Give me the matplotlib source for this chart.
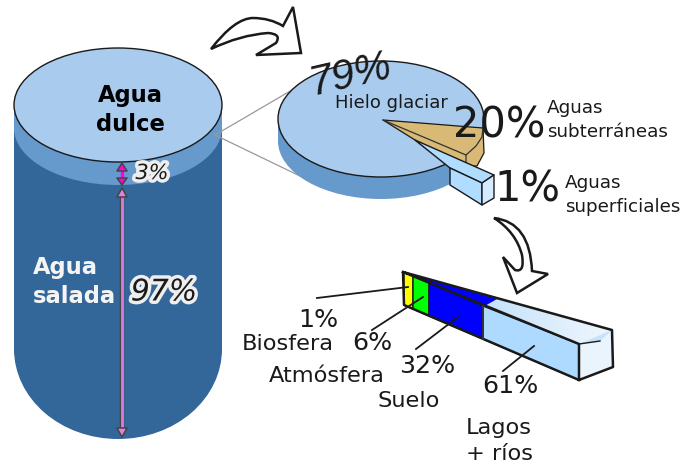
#!/usr/bin/env python3
import numpy as np
import matplotlib
matplotlib.use("Agg")
import matplotlib.pyplot as plt
import matplotlib.patheffects as pe
from matplotlib.colors import LinearSegmentedColormap
from matplotlib.patches import Ellipse, Polygon, PathPatch, Rectangle
from matplotlib.path import Path

# Values
split_labels = ["Agua\ndulce", "Agua\nsalada"]
split_values = [3, 97]
fresh_labels = ["Hielo glaciar", "Aguas\nsubterráneas", "Aguas\nsuperficiales"]
fresh_values = [79, 20, 1]
surface_labels = ["Biosfera", "Atmósfera", "Suelo", "Lagos\n+ ríos"]
surface_values = [1, 6, 32, 61]

DARK = "#336699"
MID = "#6699cc"
LIGHT = "#a8cbee"
TAN = "#d8b975"
PALE = "#b0dcff"
INK = "#1a1a1a"


def poly(ax, pts, fc, ec=INK, lw=1.2, z=2):
    p = Polygon(pts, closed=True, fc=fc, ec=ec, lw=lw, zorder=z, joinstyle="round")
    ax.add_patch(p)
    return p


def curve_arrow(ax, verts, codes):
    path = Path(verts, codes)
    ax.add_patch(PathPatch(path, fc="white", ec=INK, lw=1.8, zorder=6, joinstyle="miter"))


def up_arrow(ax, x, tip, base, fc):
    poly(ax, [(x, tip), (x - 5, base), (x + 5, base)], fc, ec="#444444", lw=1.1, z=7)


fig = plt.figure(figsize=(6.83, 4.70), dpi=100)
ax = fig.add_axes([0, 0, 1, 1])
ax.axis("off")

# Cylinder
ax.add_patch(Ellipse((118, 349), 208, 180, fc=DARK, ec="none", zorder=1))
ax.add_patch(Rectangle((14, 105), 208, 244, fc=DARK, ec="none", zorder=1))
ax.add_patch(Ellipse((118, 128), 208, 114, fc=MID, ec="none", zorder=1.2))
ax.add_patch(Rectangle((14, 105), 208, 23, fc=MID, ec="none", zorder=1.2))
ax.add_patch(Ellipse((118, 105), 208, 114, fc=LIGHT, ec=INK, lw=1.0, zorder=1.4))

# Zoom lines towards the pie
ax.plot([215, 292], [135, 90], color="#999999", lw=0.9, zorder=1.5)
ax.plot([215, 302], [135, 177], color="#999999", lw=0.9, zorder=1.5)

# Pie, drawn as a thick disc
ax.add_patch(Ellipse((381, 141), 206, 116, fc=MID, ec="none", zorder=2))
ax.add_patch(Rectangle((278, 119), 206, 22, fc=MID, ec="none", zorder=2))
ax.add_patch(Ellipse((381, 119), 206, 116, fc=LIGHT, ec=INK, lw=1.0, zorder=2.2))

# Groundwater wedge
poly(ax, [(383, 120), (483, 128), (484, 153), (477, 166), (450, 166), (415, 140)], TAN, lw=0.9, z=3)
ax.plot([383, 466, 466], [120, 155, 162], color="#333333", lw=0.9, zorder=3.1)
ax.plot([466, 476, 482, 483], [155, 146, 137, 128], color="#333333", lw=0.9, zorder=3.1)

# Surface water slice
poly(ax, [(415, 140), (494, 175), (482, 183), (450, 168)], PALE, lw=1.0, z=4)
poly(ax, [(450, 168), (482, 183), (482, 205), (450, 185)], PALE, lw=1.0, z=4)
poly(ax, [(482, 183), (494, 175), (494, 198), (482, 205)], "#d5ebff", lw=1.0, z=4)

# Bar top face with a soft gradient
top_pts = [(403, 272), (612, 330), (579, 344), (483, 306)]
top_face = Polygon(top_pts, closed=True, fc="none", ec="none", zorder=3)
ax.add_patch(top_face)
grad = np.linspace(0, 1, 128).reshape(1, -1)
cmap = LinearSegmentedColormap.from_list("top", ["#c2e1fa", "#f0f7fd"])
im = ax.imshow(grad, extent=(480, 612, 345, 290), cmap=cmap, aspect="auto", zorder=3)
im.set_clip_path(top_face)
poly(ax, [(403, 272), (497, 299), (483, 307), (429, 284)], "#0000ff", ec="none", lw=0, z=3.1)

# Bar front segments
poly(ax, [(404, 272), (413, 276), (413, 309), (404, 305)], "#ffff00", lw=1.0, z=4)
poly(ax, [(413, 276), (429, 283), (429, 316), (413, 309)], "#00ff00", lw=1.0, z=4)
poly(ax, [(429, 283), (483, 306), (483, 339), (429, 316)], "#0000ff", lw=1.0, z=4)
poly(ax, [(483, 306), (579, 344), (579, 380), (483, 339)], "#aedaff", lw=1.0, z=4)
poly(ax, [(579, 344), (612, 330), (613, 367), (579, 380)], "#eaf4fd", ec="none", lw=0, z=4)
poly(ax, [(579, 344), (600, 341), (612, 330)], "#c8e2f8", ec="none", lw=0, z=4.2)
ax.plot([403, 612, 613, 579, 404, 403, 579, 579], [272, 330, 367, 380, 305, 272, 344, 380],
        color=INK, lw=1.8, zorder=5, solid_joinstyle="round")
ax.plot([579, 600], [344, 341], color=INK, lw=1.0, zorder=5)
ax.plot([483, 483], [306, 339], color="#333333", lw=1.4, zorder=5)

# Leader lines of the bar
ax.plot([317, 408], [298, 287], color=INK, lw=1.3, zorder=6)
ax.plot([372, 423], [330, 297], color=INK, lw=1.3, zorder=6)
ax.plot([416, 458], [349, 317], color=INK, lw=1.3, zorder=6)
ax.plot([503, 534], [371, 346], color=INK, lw=1.3, zorder=6)

# Outline arrows
M, L, C = Path.MOVETO, Path.LINETO, Path.CURVE3
curve_arrow(ax,
            [(211, 49), (235, 18), (253, 18), (270, 18), (283, 26), (293, 7), (301, 53), (256, 55),
             (276, 43), (282, 34), (268, 33), (240, 35), (211, 49), (211, 49)],
            [M, C, C, C, C, L, L, L, L, C, C, C, C, Path.CLOSEPOLY])
curve_arrow(ax,
            [(494, 218), (530, 222), (532, 271), (548, 274), (517, 293), (503, 257), (515, 270),
             (525, 273), (522, 255), (516, 232), (494, 218), (494, 218)],
            [M, C, C, L, L, L, L, C, C, C, C, Path.CLOSEPOLY])

# Percentage arrows on the cylinder
ax.plot([122, 122], [194, 430], color="#444444", lw=3.2, zorder=6, solid_capstyle="butt")
ax.plot([122, 122], [194, 430], color="#d878d8", lw=2.1, zorder=6.5, solid_capstyle="butt")
up_arrow(ax, 122, 188, 197, "#e080e0")
up_arrow(ax, 122, 437, 428, "#e080e0")
ax.plot([122, 122], [167, 180], color="#ff00e0", lw=2.4, zorder=6.5, solid_capstyle="butt")
up_arrow(ax, 122, 163, 171, "#ff00e0")
up_arrow(ax, 122, 185, 178, "#ff00e0")

# Cylinder labels
tkw = dict(va="center", fontweight="bold", fontsize=16.3, linespacing=1.35, zorder=8)
ax.text(130, 110, split_labels[0], color="black", ha="center", **tkw)
ax.text(33, 282, split_labels[1], color="#f4f4f4", ha="left", multialignment="left", **tkw)
halo = [pe.withStroke(linewidth=5, foreground="#eeeeee")]
ax.text(152, 173, f"{split_values[0]}%", fontsize=15, style="italic", ha="center", va="center",
        color=INK, zorder=8, path_effects=halo)
ax.text(164, 292, f"{split_values[1]}%", fontsize=21.5, style="italic", ha="center", va="center",
        color=INK, zorder=8, path_effects=halo)

# Pie labels
ax.text(351, 75, f"{fresh_values[0]}%", family="Liberation Sans", fontsize=30,
        style="italic", rotation=13, ha="center", va="center", color=INK, zorder=8)
ax.text(391, 103, fresh_labels[0], fontsize=13, ha="center", va="center", color=INK, zorder=8)
ax.text(499, 126, f"{fresh_values[1]}%", fontsize=30, ha="center", va="center", color=INK, zorder=8)
ax.text(547, 120, fresh_labels[1], fontsize=13.2, ha="left", va="center", color=INK, linespacing=1.36, zorder=8)
ax.text(527, 190, f"{fresh_values[2]}%", fontsize=30, ha="center", va="center", color=INK, zorder=8)
ax.text(565, 195, fresh_labels[2], fontsize=13.2, ha="left", va="center", color=INK, linespacing=1.36, zorder=8)

# Bar labels
pct_xy = [(318, 320), (372, 343), (427, 366), (510, 386)]
name_xy = [(288, 344), (327, 376), (409, 401), (499, 441)]
for v, xy in zip(surface_values, pct_xy):
    ax.text(xy[0], xy[1], f"{v}%", fontsize=18.2, ha="center", va="center", color=INK, zorder=8)
for s, xy in zip(surface_labels, name_xy):
    ax.text(xy[0], xy[1], s, fontsize=16.2, ha="center", va="center", color=INK, linespacing=1.39, zorder=8)

ax.set_xlim(0, 683)
ax.set_ylim(470, 0)
fig.savefig("out.png", dpi=100)
plt.close(fig)
